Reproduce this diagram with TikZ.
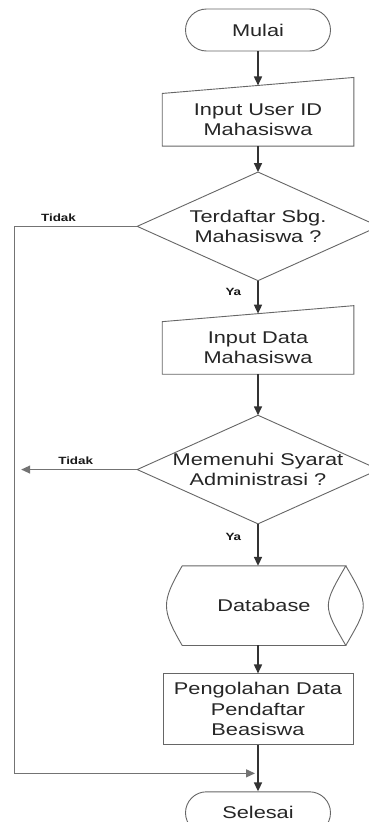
\documentclass[tikz,border=0pt]{standalone}
\usepackage{fontspec}
\setmainfont[FakeStretch=1.28]{Liberation Sans}
\usetikzlibrary{arrows.meta,positioning}

\begin{document}
\begin{tikzpicture}[->,>={Triangle[width=8pt,length=9pt]},line width=1.6pt,draw=black!80]
  \tikzstyle{box}=[inner sep=0pt,align=center,text=black!85,font=\fontsize{17}{20.5}\selectfont]
  \tikzstyle{terminal}=[box,draw=black!60,line width=0.9pt,rounded corners=21pt,minimum width=145pt,minimum height=42pt]
  \tikzstyle{manual}=[box,minimum width=190pt,minimum height=51pt]
  \tikzstyle{decision}=[box,minimum width=240pt,minimum height=107pt]
  \tikzstyle{storage}=[box,minimum width=162pt,minimum height=78pt]
  \tikzstyle{process}=[box,draw=black!60,line width=0.9pt,minimum width=190pt,minimum height=71pt]
  \tikzstyle{outline}=[-,draw=black!60,line width=0.9pt]
  \tikzstyle{branch}=[draw=black!55,line width=1.3pt]
  \tikzstyle{answer}=[inner sep=0pt,text=black!90,font=\fontsize{10.5}{12}\selectfont\bfseries]
  \path[fill=white,use as bounding box] (0,0) rectangle (369pt,-822pt);

	\node[terminal] (mulai) at (258pt,-30pt) {Mulai};
	\node[manual, below=42pt of mulai] (inputid) {Input User ID\\Mahasiswa};
	\node[decision, below=26pt of inputid] (cek1) {Terdaftar Sbg.\\Mahasiswa ?};
	\node[manual, below=41pt of cek1] (inputdata) {Input Data\\Mahasiswa};
	\node[decision, below=41pt of inputdata] (cek2) {Memenuhi Syarat\\Administrasi ?};
	\node[storage, below=42pt of cek2, xshift=6pt] (db) {Database};
	\node[process, below=28pt of db, xshift=-6pt] (olah) {Pengolahan Data\\Pendaftar\\Beasiswa};
	\node[terminal, below=46pt of olah] (selesai) {Selesai};

	% outlines of the shapes
	\foreach \n in {inputid,inputdata}
	  \draw[outline] (\n.north west) -- ([yshift=16pt]\n.north east) -- (\n.south east) -- (\n.south west) -- cycle;
	\foreach \n in {cek1,cek2}
	  \draw[outline] (\n.north) -- (\n.east) -- (\n.south) -- (\n.west) -- cycle;
	\draw[outline] (db.north west) -- (db.north east) to[out=-120,in=120,looseness=1.5] (db.south east)
	  -- (db.south west) to[out=120,in=-120,looseness=1.35] (db.north west);
	\draw[outline] (db.north east) to[out=-60,in=60,looseness=1.5] (db.south east);

	\path[->]
	(mulai) edge ([yshift=8pt]inputid.north)
	(inputid) edge (cek1)
	(cek1) edge node[answer, pos=0.35, left=16pt]{Ya} ([yshift=8pt]inputdata.north)
	(inputdata) edge (cek2)
	(cek2.south) edge node[answer, pos=0.3, left=16pt]{Ya} (cek2.south |- db.north)
	(olah.north |- db.south) edge (olah)
	(olah) edge (selesai);

	\coordinate[left=123pt of cek1.west] (kiri);
	\coordinate (masuk) at ([xshift=-3pt,yshift=18pt]selesai.north);
	\draw[branch] (cek1.west) -- node[answer, pos=0.64, above=4pt]{Tidak} (kiri) |- (masuk);
	\coordinate[left=116pt of cek2.west] (keluar);
	\draw[branch] (cek2.west) -- node[answer, pos=0.53, above=4pt]{Tidak} (keluar);
\end{tikzpicture}
\end{document}
